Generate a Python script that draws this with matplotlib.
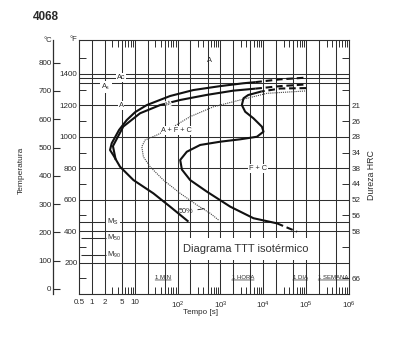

import matplotlib

matplotlib.use("Agg")
import matplotlib.pyplot as plt  # noqa: E402
import numpy as np  # noqa: E402
from matplotlib.ticker import FixedLocator, NullFormatter  # noqa: E402

plt.rcParams["font.family"] = ["Liberation Sans", "DejaVu Sans"]
plt.rcParams["mathtext.default"] = "regular"

INK = "#111111"
GRID = "#2e2e2e"
TXT = "#2a2a2a"


def f2c(f):
    return (np.asarray(f, dtype=float) - 32.0) / 1.8


# ---------------------------------------------------------------------------
# data: tempo (s), temperatura (°C)
# ---------------------------------------------------------------------------

# inicio da transformacao, curva externa (de Ms ate o topo)
start_t = [179, 66.8, 27.2, 9.3, 4.54, 3.16, 2.65, 2.9, 4.3, 6.5, 10.2, 19.1, 66.8, 231, 985, 3400, 6500]
start_c = [238, 291, 338, 385, 432, 473, 491, 515, 562, 597, 625, 650, 682, 703, 717, 727, 731]
start_tail_t = [6500, 24800, 1e5]
start_tail_c = [731, 741, 747]

# curva interna (ramo superior, junta-se a externa abaixo do nariz)
inner_t = [3.6, 3.1, 5.4, 13.3, 39, 115, 482, 2010, 6500]
inner_c = [456, 505, 574, 621, 650, 668, 686, 701, 708]
inner_tail_t = [6500, 24800, 1e5]
inner_tail_c = [708, 717, 723]

# 50 % transformado (linha fina pontilhada)
half_t = [899, 575, 281, 115, 46.6, 22.8, 15.9, 14.6, 17.4, 32.7, 79.8, 196, 687, 2890, 12200, 1e5]
half_c = [244, 267.5, 297, 338, 385, 432, 467, 503, 526.5, 544, 573.5, 609, 644, 668, 691.5, 700]

# fim da transformacao
finish_t = [9000, 4440, 3450, 3160, 3780, 5910, 9290, 10100, 7100, 2890, 985, 336, 164, 115, 126,
            196, 482, 1690, 5910, 20800]
finish_c = [698, 685.5, 674, 650, 626.5, 603, 573.5, 556, 538, 529, 520.5, 509, 485, 456, 422,
            385, 344, 291, 250, 232]
finish_top_t = [1e5, 24800, 9000]
finish_top_c = [710, 708.5, 698]
finish_low_t = [20800, 61000]
finish_low_c = [232, 202.5]

# linhas de referencia (°C)
AC_LINE = 747
AS_LINE = 727
MS = 236
M50 = 180
M90 = 120

# eixos
GRID_T = [1, 2, 5, 10, 20, 50, 100, 200, 500, 1e3, 2e3, 5e3, 1e4, 2e4, 5e4, 1e5, 2e5, 5e5]
GRID_F = [200, 400, 600, 800, 1000, 1200, 1400]
MINOR_F = [100, 300, 500, 700, 900, 1100, 1300, 1500]
XTICKS = [0.5, 1, 2, 5, 10, 1e2, 1e3, 1e4, 1e5, 1e6]
XLABELS = ["0.5", "1", "2", "5", "10", "$10^2$", "$10^3$", "$10^4$", "$10^5$", "$10^6$"]
CTICKS = [0, 100, 200, 300, 400, 500, 600, 700, 800]
HRC_F = [1200, 1100, 1000, 900, 800, 700, 600, 500, 400, 100]
HRC = ["21", "26", "28", "34", "38", "44", "52", "56", "58", "66"]
PERIOD_T = [46, 3340, 72800, 430000]
PERIOD_LBL = ["1 MIN", "1 HORA", "1 DIA", "1 SEMANA"]

# ---------------------------------------------------------------------------
# figure
# ---------------------------------------------------------------------------

fig = plt.figure(figsize=(4.0, 3.4), dpi=100)
ax = fig.add_axes([79 / 400, 46 / 340, 270 / 400, 254 / 340])
ax.set_xscale("log")
ax.set_xlim(0.5, 1e6)
ax.set_ylim(f2c(0), 880)
for sp in ax.spines.values():
    sp.set_linewidth(0.8)
    sp.set_color(GRID)

# grade
for t in GRID_T:
    ax.axvline(t, color=GRID, lw=0.75, zorder=1)
for c in list(f2c(GRID_F)) + [AC_LINE, AS_LINE, MS]:
    ax.axhline(c, color=GRID, lw=0.75, zorder=1)
ax.hlines([M50, M90], 0.55, 2.1, color=GRID, lw=0.75, zorder=1)

# eixo x
ax.set_xticks(XTICKS, labels=XLABELS)
ax.xaxis.set_minor_locator(FixedLocator([m * 10 ** n for n in range(6) for m in (3, 4, 6, 7, 8, 9)]))
ax.xaxis.set_minor_formatter(NullFormatter())
ax.tick_params(axis="x", which="major", length=0, pad=3.8, labelsize=5.8, labelcolor=TXT)
ax.tick_params(axis="x", which="minor", direction="in", length=5, width=0.7, color=GRID,
               top=True, bottom=True)

# eixo y em °F (esquerda) com marcas internas nos dois lados
ax.set_yticks(f2c(GRID_F), labels=[str(f) for f in GRID_F])
ax.yaxis.set_minor_locator(FixedLocator(f2c(MINOR_F)))
ax.yaxis.set_minor_formatter(NullFormatter())
ax.tick_params(axis="y", which="major", length=0, pad=1.2, labelsize=5.8, labelcolor=TXT)
ax.tick_params(axis="y", which="minor", direction="in", length=5, width=0.7, color=GRID,
               left=True, right=True)

# dureza HRC (direita)
hrc = ax.secondary_yaxis("right")
hrc.set_yticks(f2c(HRC_F), labels=HRC)
hrc.tick_params(length=0, pad=2.2, labelsize=5.8, labelcolor=TXT)
hrc.spines["right"].set_visible(False)

# escala em °C (esquerda, deslocada)
cax = ax.secondary_yaxis(-26 / 270)
cax.set_yticks(CTICKS)
cax.tick_params(direction="in", length=5, width=0.8, color=GRID, pad=1.0, labelsize=5.8,
                labelcolor=TXT)
cax.spines["left"].set_linewidth(0.9)
cax.spines["left"].set_color(GRID)

# curvas
thick = dict(color=INK, lw=1.5, zorder=4, solid_capstyle="butt")
dash = dict(color=INK, lw=1.5, zorder=4, linestyle=(0, (3.2, 1.8)))
ax.plot(start_t, start_c, **thick)
ax.plot(start_tail_t, start_tail_c, **dash)
ax.plot(inner_t, inner_c, **thick)
ax.plot(inner_tail_t, inner_tail_c, **dash)
ax.plot(finish_t, finish_c, **thick)
ax.plot(finish_top_t, finish_top_c, **dash)
ax.plot(finish_low_t, finish_low_c, **dash)
ax.plot(half_t, half_c, color="#444444", lw=0.8, linestyle=(0, (1, 0.9)), zorder=3)

# rotulos internos
white = dict(boxstyle="square,pad=0.12", fc="white", ec="none")
lab = dict(fontsize=5.3, color=TXT, ha="center", va="center", zorder=6)
ax.text(545, 809, "A", **lab)
ax.text(4.8, AC_LINE, "Ac", bbox=white, **lab)
ax.text(2.14, 714, "A$_s$", bbox=white, **lab)
ax.text(4.8, f2c(1200), "A", bbox=white, **lab)
ax.text(61, 656, "M", rotation=25, bbox=white, **{**lab, "fontsize": 4.2})
ax.text(96, 559, "A + F + C", bbox=white, **lab)
ax.text(7600, f2c(800), "F + C", bbox=white, **lab)
ax.text(3.1, MS, "M$_S$", bbox=white, **lab)
ax.text(2.22, M50, "M$_{50}$", **{**lab, "ha": "left"})
ax.text(2.22, M90, "M$_{90}$", **{**lab, "ha": "left"})
ax.annotate("50%", xy=(417, 284), xytext=(160, 273), fontsize=5.3, color=TXT,
            ha="center", va="center", zorder=6,
            arrowprops=dict(arrowstyle="-", lw=0.6, color=INK, shrinkA=1, shrinkB=0))

ax.text(3880, 141, "Diagrama TTT isotérmico", fontsize=8, color="#333333", ha="center",
        va="center", zorder=6,
        bbox=dict(boxstyle="square,pad=0.22", fc="white", ec="none", mutation_aspect=2.4))

for t, s in zip(PERIOD_T, PERIOD_LBL):
    txt = ax.text(t, 41, s, fontsize=4.3, color=TXT, ha="center", va="center", zorder=6)
    ax.annotate("", xy=(0, -0.02), xycoords=txt, xytext=(1, -0.02), textcoords=txt,
                arrowprops=dict(arrowstyle="-", lw=0.5, color=TXT, shrinkA=0, shrinkB=0))

# textos da figura
fig.text(33 / 400, 1 - 17 / 340, "4068", fontsize=8.5, fontweight="bold", color=TXT,
         ha="left", va="center")
fig.text(47.5 / 400, 1 - 40.5 / 340, "°C", fontsize=5.5, color=TXT, ha="center", va="center")
fig.text(73.5 / 400, 1 - 39.5 / 340, "°F", fontsize=5.5, color=TXT, ha="center", va="center")
fig.text(21.7 / 400, 1 - 170 / 340, "Temperatura", fontsize=6, color=TXT, rotation=90,
         ha="center", va="center")
fig.text(372 / 400, 1 - 175 / 340, "Dureza HRC", fontsize=6.3, color=TXT, rotation=90,
         ha="center", va="center")
fig.text(201 / 400, 1 - 313 / 340, "Tempo [s]", fontsize=5.8, color=TXT, ha="center",
         va="center")

fig.savefig("out.png", dpi=100)
